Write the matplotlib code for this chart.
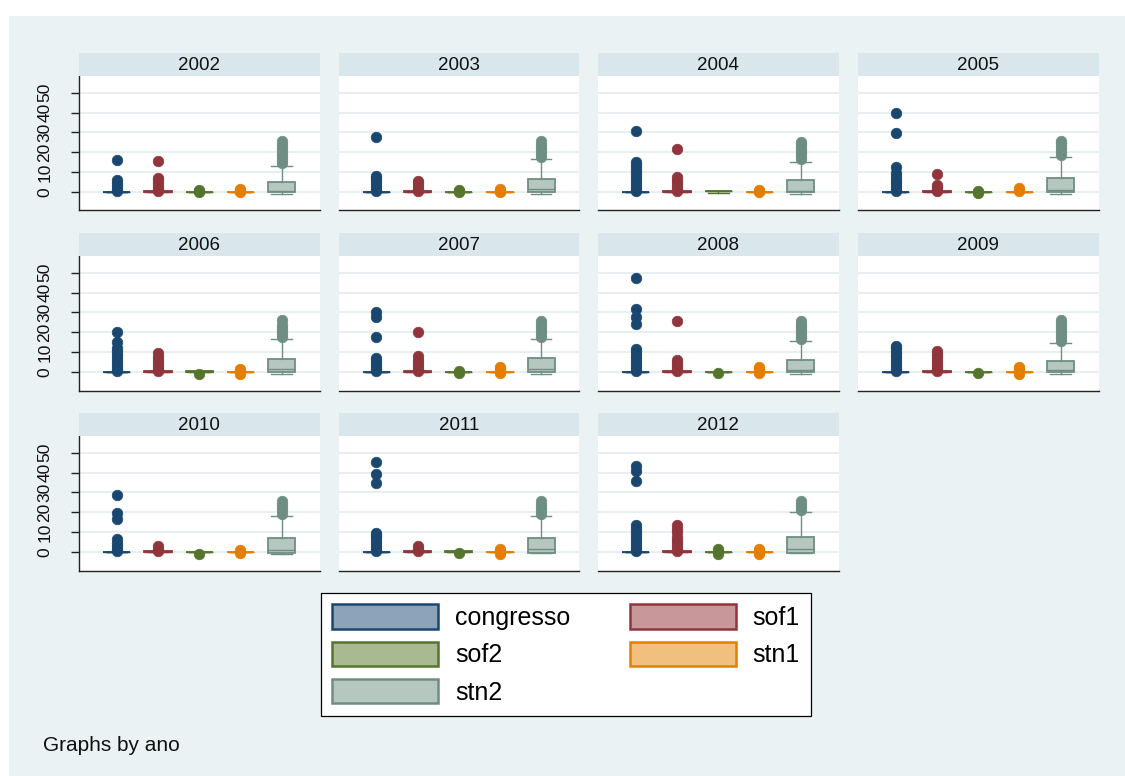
import numpy as np
import matplotlib.pyplot as plt
from matplotlib.patches import Patch, Rectangle

plt.rcParams['font.family'] = ['Liberation Sans', 'DejaVu Sans']

years = [2002, 2003, 2004, 2005, 2006, 2007, 2008, 2009, 2010, 2011, 2012]
series = ["congresso", "sof1", "sof2", "stn1", "stn2"]
line_colors = ["#1a476f", "#90353b", "#55752f", "#e37e00", "#6e8e84"]
fill_colors = ["#8ca3b9", "#c8979a", "#a9ba93", "#f1c07f", "#b6c7c0"]
yticks = [0, 10, 20, 30, 40, 50]

# box stats per year: (q1, median, q3, lower adjacent, upper adjacent)
congresso_box = [(0, 0, 0, 0, 0)] * 11
sof1_box = [(0, 0, 0.3, 0, 0.3)] * 11
sof2_box = [(0, 0, 0, 0, 0), (0, 0, 0, 0, 0), (0.4, 0.4, 0.4, -0.8, 0.4),
            (0, 0, 0, 0, 0), (0, 0, 0.4, -0.3, 0.4), (0, 0, 0, 0, 0),
            (0, 0, 0, 0, 0), (0, 0, 0, 0, 0), (0, 0, 0, 0, 0),
            (0, 0, 0.2, 0, 0.2), (0, 0, 0, 0, 0)]
stn1_box = [(0, 0, 0, 0, 0)] * 11
stn2_box = [(-0.3, 0.3, 5.2, -1.0, 13.1),
            (-0.3, 1.2, 6.7, -1.0, 16.5),
            (-0.3, 0.3, 6.0, -1.0, 15.3),
            (-0.2, 0.8, 7.1, -1.0, 17.5),
            (-0.2, 1.5, 6.4, -1.2, 16.5),
            (-0.3, 1.3, 6.9, -1.2, 16.8),
            (-0.3, 1.0, 6.0, -1.2, 15.6),
            (-0.3, 0.7, 5.7, -1.1, 14.4),
            (-0.5, 0.7, 7.2, -1.0, 18.3),
            (-0.5, 1.3, 7.2, -0.8, 18.1),
            (-0.5, 1.3, 7.7, -0.8, 20.3)]

# outside values per year
congresso_out = [[0.3, 1.5, 3, 4.5, 6, 16.1],
                 [0.3, 1.5, 3, 4.5, 6, 7, 8.2, 27.4],
                 [0.3, 1.5, 3, 4.5, 6, 7.5, 9, 10.5, 12, 13.5, 15.3, 30.9],
                 [0.3, 1.5, 3, 4.5, 6, 7.5, 9.4, 12.4, 29.9, 39.6],
                 [0.3, 1.5, 3, 4.5, 6, 7.5, 9, 10.5, 11.9, 14.9, 20.3],
                 [0.3, 1.5, 3, 4.5, 6, 7.2, 17.8, 27.4, 30.4],
                 [0.3, 1.5, 3, 4.5, 6, 7.5, 9, 10.5, 11.6, 24.0, 27.4, 31.7, 47.5],
                 [0.3, 1.5, 3, 4.5, 6, 7.5, 9, 10.5, 12, 13.1],
                 [0.3, 1.5, 3, 4.5, 6.4, 16.6, 19.8, 28.9],
                 [0.3, 1.5, 3, 4.5, 6, 7.5, 8.5, 9.7, 34.6, 39.3, 45.5],
                 [0.3, 1.5, 3, 4.5, 6, 7.5, 9, 10.5, 12, 13.6, 35.9, 40.8, 43.5]]
sof1_out = [[0.3, 1.5, 3, 4.5, 6, 7, 15.6],
            [0.3, 1.5, 3, 4.5, 5.5],
            [0.3, 1.5, 3, 4.5, 6, 7.7, 21.5],
            [0.3, 1.5, 2.5, 3.5, 8.9],
            [0.3, 1.5, 3, 4.5, 6, 7.5, 9.4],
            [0.3, 1.5, 3, 4.5, 6, 8.1, 20.0],
            [0.3, 1.5, 3, 4.5, 6.0, 25.4],
            [0.3, 1.5, 3, 4.5, 6, 7.5, 9, 10.6],
            [0.3, 1.5, 2.7],
            [0.3, 1.5, 2.7],
            [0.3, 1.5, 3, 4.5, 6, 7.7, 9.9, 11.5, 13.3]]
sof2_out = [[-0.3, 0.5, 1.0], [-0.3, 0.5, 1.0], [], [-0.5, 0.2], [-1.0],
            [-0.5, 0.5], [-0.7], [-0.7], [-1.0], [-0.7], [-1.0, 0.3, 1.3]]
stn1_out = [[-0.3, 0.5, 1.2], [-0.3, 0.5, 1.5], [-0.3, 0.5, 1.0],
            [0.3, 1.0, 1.8], [-1.0, 0.3, 1.5], [-0.7, 0.5, 1.5, 2.4],
            [-0.7, 0.5, 1.5, 2.4], [-1.0, 0.5, 1.5, 2.2], [-0.7, 0.7],
            [-1.0, 0.5, 1.5], [-1.0, 0.5, 1.5]]
stn2_out = [[14.5, 16, 17.5, 19, 20.5, 22, 23.5, 25.4],
            [17.5, 19, 20.5, 22, 23.5, 25.7],
            [16.5, 18, 19.5, 21, 22.5, 24, 25.0],
            [18.5, 20, 21.5, 23, 24.5, 25.7],
            [17.5, 19, 20.5, 22, 23.5, 25.9],
            [17.8, 19.5, 21, 22.5, 24, 25.4],
            [16.6, 18, 19.5, 21, 22.5, 24, 25.4],
            [15.4, 17, 18.5, 20, 21.5, 23, 24.5, 25.9],
            [19.3, 21, 22.5, 24, 25.4],
            [19.1, 20.5, 22, 23.5, 25.7],
            [21.3, 22.5, 24, 25.7]]

all_boxes = [congresso_box, sof1_box, sof2_box, stn1_box, stn2_box]
all_out = [congresso_out, sof1_out, sof2_out, stn1_out, stn2_out]

W, H = 1125, 776
fig = plt.figure(figsize=(W / 100, H / 100), dpi=100)
fig.patch.set_facecolor("white")
fig.add_artist(Rectangle((9 / W, 0), 1 - 9 / W, 1 - 16 / H, transform=fig.transFigure,
                         facecolor="#eaf2f3", edgecolor="none", zorder=-5))

col_left = [79, 338.5, 598, 858]
pw, ph, hh = 240.5, 134.5, 23.3

for i, yr in enumerate(years):
    r, c = divmod(i, 4)
    left = col_left[c]
    top = 76 + 180 * r
    ax = fig.add_axes([left / W, 1 - (top + ph) / H, pw / W, ph / H])
    hx = fig.add_axes([left / W, 1 - top / H, pw / W, hh / H])
    hx.set_facecolor("#d9e6eb")
    hx.set_xticks([]); hx.set_yticks([])
    for s in hx.spines.values():
        s.set_visible(False)
    hx.text(0.5, 0.47, str(yr), ha="center", va="center", fontsize=13.5, color="#111111")

    for k in range(5):
        q1, med, q3, lo, hi = all_boxes[k][i]
        st = dict(q1=q1, med=med, q3=q3, whislo=lo, whishi=hi, fliers=all_out[k][i])
        lc = line_colors[k]
        ax.bxp([st], positions=[k + 1], widths=0.66, capwidths=0.5, patch_artist=True,
               boxprops=dict(facecolor=fill_colors[k], edgecolor=lc, linewidth=1.3),
               medianprops=dict(color=lc, linewidth=1.0),
               whiskerprops=dict(color=lc, linewidth=1.0),
               capprops=dict(color=lc, linewidth=1.0),
               flierprops=dict(marker="o", markerfacecolor=lc, markeredgecolor=lc,
                               markersize=7.6, markeredgewidth=0.5, linestyle="none"))

    ax.set_xlim(0.08, 5.92)
    ax.set_ylim(-9.4, 58.4)
    ax.set_xticks([])
    ax.set_yticks(yticks)
    ax.yaxis.grid(True, color="#e3ecef", linewidth=1.2)
    ax.set_axisbelow(True)
    ax.spines["top"].set_visible(False)
    ax.spines["right"].set_visible(False)
    ax.spines["bottom"].set_color("#222222")
    ax.spines["bottom"].set_linewidth(1.0)
    if c == 0:
        ax.spines["left"].set_color("#222222")
        ax.spines["left"].set_linewidth(1.0)
        ax.tick_params(axis="y", length=6, width=1, pad=13, labelsize=12.5,
                       color="#222222", labelcolor="#111111")
        ax.set_yticklabels([str(t) for t in yticks])
        plt.setp(ax.get_yticklabels(), rotation=90, va="center")
    else:
        ax.spines["left"].set_visible(False)
        ax.tick_params(axis="y", length=0, labelleft=False)

handles = [Patch(facecolor=fill_colors[k], edgecolor=line_colors[k], linewidth=1.8,
                 label=series[k]) for k in range(5)]
order = [0, 2, 4, 1, 3]
leg = fig.legend(handles=[handles[k] for k in order], loc="upper left",
                 bbox_to_anchor=(321 / W, 1 - 593 / H), ncol=2, fontsize=18,
                 frameon=True, fancybox=False, edgecolor="black", framealpha=1,
                 handlelength=4.24, handleheight=1.12, handletextpad=0.68,
                 columnspacing=2.36, labelspacing=0.47, borderpad=0.45, borderaxespad=0)
leg.get_frame().set_linewidth(0.9)

fig.text(43 / W, 1 - 750.7 / H, "Graphs by ano", fontsize=15, va="baseline", color="#111111")

fig.savefig("out.png", dpi=100)
